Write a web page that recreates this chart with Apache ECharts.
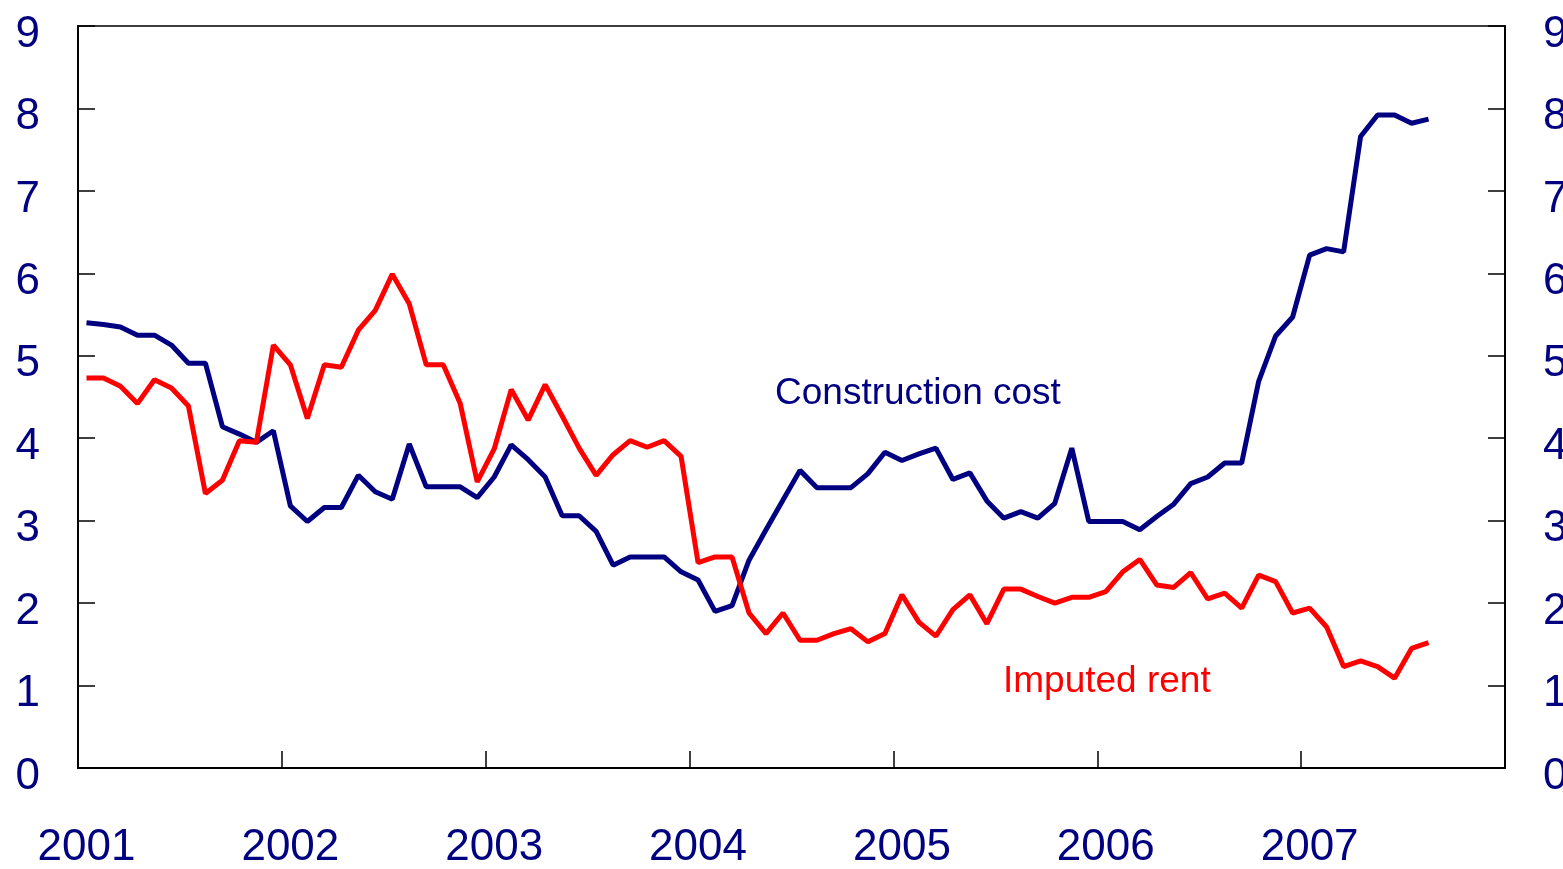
<!DOCTYPE html>
<html>
<head>
<meta charset="utf-8">
<script src="https://cdn.jsdelivr.net/npm/echarts@6/dist/echarts.min.js"></script>
<style>
  html, body { margin: 0; padding: 0; background: #fff; }
  #main { width: 1563px; height: 869px; }
</style>
</head>
<body>
<div id="main"></div>
<script>
// years on the axis, one category per month
const years = ['2001', '2002', '2003', '2004', '2005', '2006', '2007'];
const yTicks = [0, 1, 2, 3, 4, 5, 6, 7, 8, 9];

// monthly values, Jan 2001 - Aug 2007
const construction = [5.40, 5.38, 5.35, 5.25, 5.25, 5.13, 4.91, 4.91, 4.14, 4.05, 3.95, 4.09,
  3.18, 2.99, 3.16, 3.16, 3.55, 3.35, 3.26, 3.93, 3.41, 3.41, 3.41, 3.28,
  3.53, 3.92, 3.74, 3.53, 3.06, 3.06, 2.87, 2.46, 2.56, 2.56, 2.56, 2.38,
  2.28, 1.90, 1.97, 2.52, 2.89, 3.25, 3.61, 3.40, 3.40, 3.40, 3.57, 3.83,
  3.73, 3.81, 3.88, 3.50, 3.58, 3.24, 3.03, 3.11, 3.03, 3.21, 3.88, 2.99,
  2.99, 2.99, 2.89, 3.05, 3.20, 3.45, 3.53, 3.70, 3.70, 4.69, 5.24, 5.47,
  6.22, 6.30, 6.26, 7.66, 7.92, 7.92, 7.82, 7.87];

const rent = [4.73, 4.73, 4.63, 4.42, 4.71, 4.61, 4.39, 3.33, 3.49, 3.97, 3.95, 5.13,
  4.89, 4.24, 4.89, 4.86, 5.31, 5.55, 5.99, 5.63, 4.89, 4.89, 4.42, 3.47,
  3.87, 4.59, 4.22, 4.65, 4.27, 3.88, 3.55, 3.80, 3.97, 3.89, 3.97, 3.78,
  2.49, 2.56, 2.56, 1.88, 1.63, 1.88, 1.55, 1.55, 1.63, 1.69, 1.53, 1.63,
  2.10, 1.77, 1.60, 1.92, 2.10, 1.75, 2.17, 2.17, 2.08, 2.00, 2.07, 2.07,
  2.14, 2.38, 2.53, 2.22, 2.19, 2.37, 2.05, 2.12, 1.94, 2.34, 2.26, 1.88,
  1.94, 1.71, 1.23, 1.30, 1.23, 1.09, 1.45, 1.52];

const months = [];
years.forEach(y => {
  for (let m = 1; m <= 12; m++) months.push(y + '-' + (m < 10 ? '0' + m : m));
});

const navy = '#000080';
const red = '#ff0000';
const font = "'Liberation Sans', Arial, sans-serif";

const yAxisBase = (pos) => ({
  type: 'value',
  position: pos,
  min: yTicks[0],
  max: yTicks[yTicks.length - 1],
  interval: 1,
  splitLine: { show: false },
  axisLine: { show: true, lineStyle: { color: '#000', width: 2 } },
  axisTick: { show: true, inside: true, length: 17, lineStyle: { color: '#000', width: 1.5 } },
  // labels sit a little below their ticks in the original
  axisLabel: {
    color: navy, fontSize: 44, fontFamily: font, margin: 38,
    verticalAlign: 'top', lineHeight: 17
  }
});

const chart = echarts.init(document.getElementById('main'));

const option = {
  animation: false,
  backgroundColor: '#fff',
  grid: {
    left: 78, right: 58, top: 26, bottom: 101,
    containLabel: false,
    outerBoundsMode: 'none',
    show: true, borderColor: '#000', borderWidth: 1.5
  },
  xAxis: {
    type: 'category',
    data: months,
    boundaryGap: true,
    axisLine: { show: true, lineStyle: { color: '#000', width: 2 } },
    axisTick: { show: true, inside: true, length: 17, interval: 11, lineStyle: { color: '#000', width: 1.5 } },
    axisLabel: {
      interval: 11,
      color: navy, fontSize: 44, fontFamily: font, margin: 58,
      formatter: v => v.slice(0, 4)
    },
    splitLine: { show: false }
  },
  yAxis: [yAxisBase('left'), yAxisBase('right')],
  series: [
    {
      name: 'Construction cost',
      type: 'line',
      data: construction,
      showSymbol: false,
      lineStyle: { color: navy, width: 5 },
      itemStyle: { color: navy }
    },
    {
      name: 'Imputed rent',
      type: 'line',
      data: rent,
      showSymbol: false,
      lineStyle: { color: red, width: 5 },
      itemStyle: { color: red }
    }
  ],
  graphic: [
    {
      type: 'text', left: 775, top: 375,
      style: { text: 'Construction cost', fill: navy, fontSize: 37, fontFamily: font }
    },
    {
      type: 'text', left: 1003, top: 663,
      style: { text: 'Imputed rent', fill: red, fontSize: 37, fontFamily: font }
    }
  ]
};

option && chart.setOption(option);
</script>
</body>
</html>
